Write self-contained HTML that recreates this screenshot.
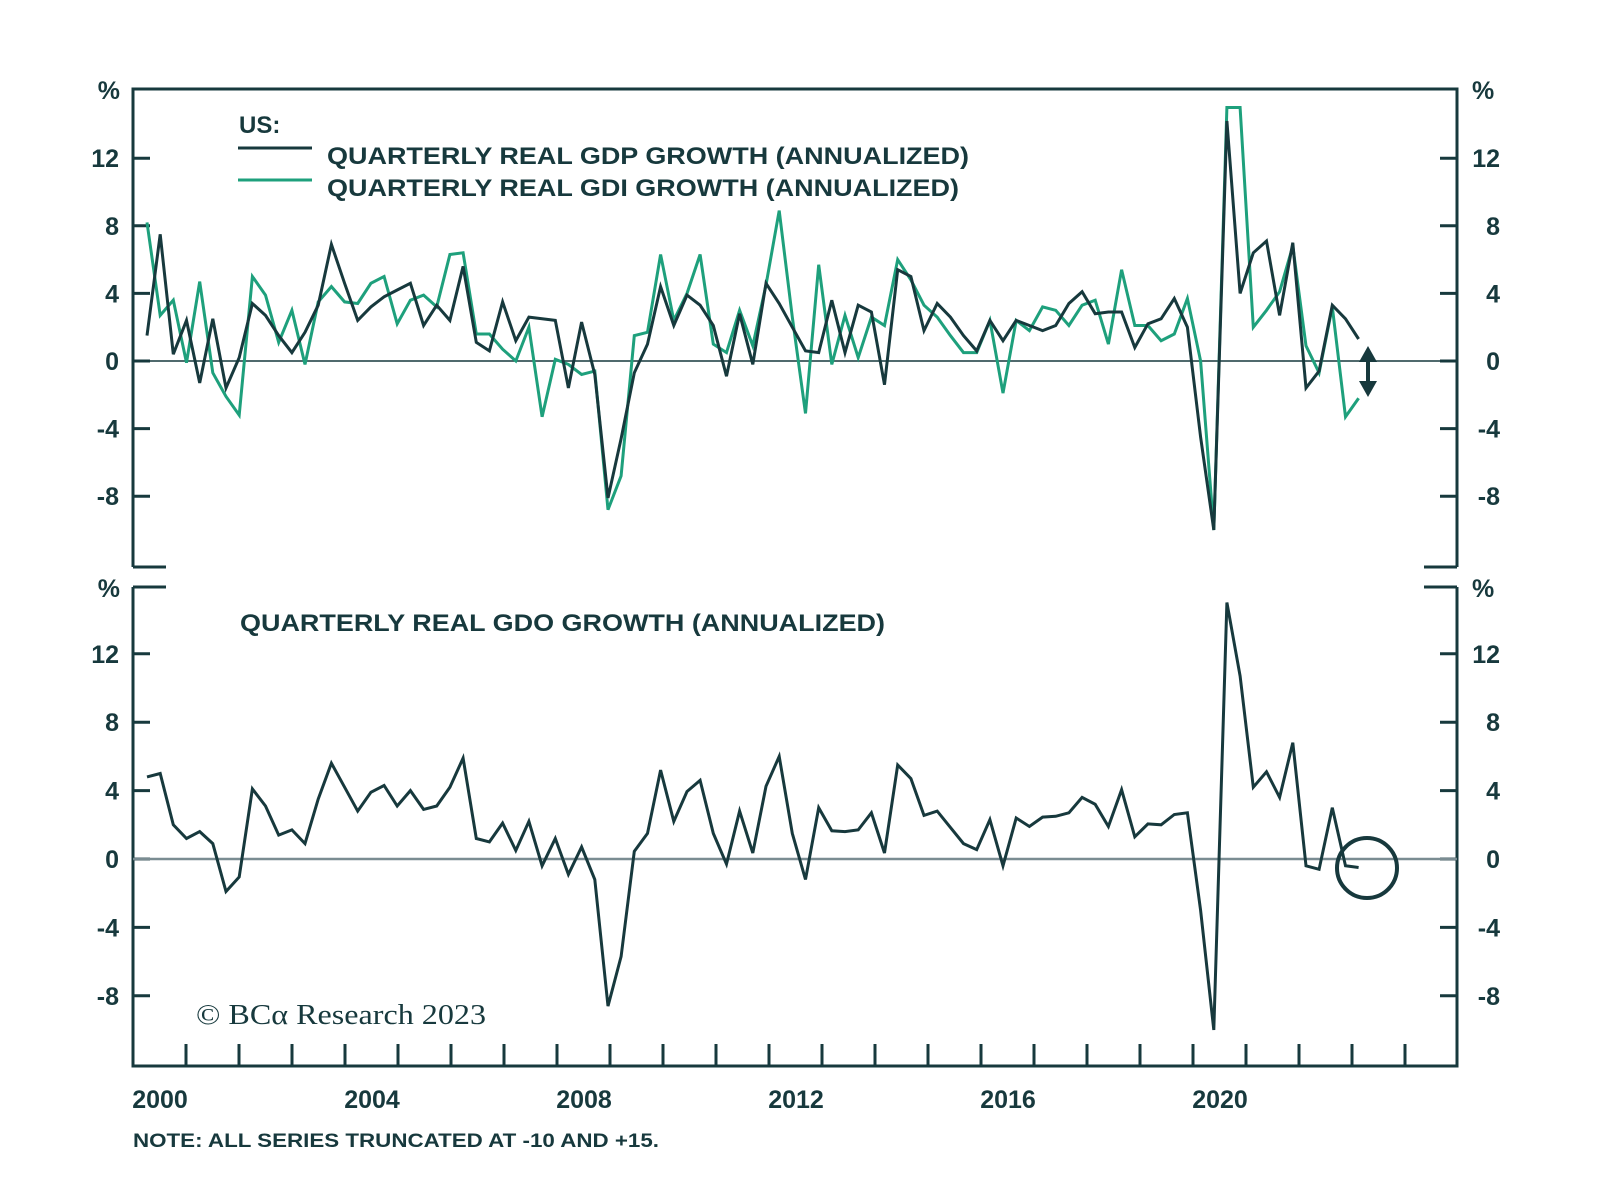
<!DOCTYPE html>
<html><head><meta charset="utf-8"><style>
html,body{margin:0;padding:0;background:#fff;}
svg{display:block;}
text{font-family:"Liberation Sans",sans-serif;fill:#17393d;}
.ax{font-size:25px;font-weight:bold;}
.lg{font-size:24px;font-weight:bold;}
</style></head><body>
<svg id="s" width="1600" height="1202" viewBox="0 0 1600 1202" xmlns="http://www.w3.org/2000/svg">
<g stroke="#17393d" stroke-width="3" fill="none">
<polyline points="133,567 133,89 1457,89 1457,567"/>
<line x1="133" y1="567" x2="166" y2="567"/>
<line x1="1424" y1="567" x2="1457" y2="567"/>
<polyline points="133,587 133,1066 1457,1066 1457,587"/>
<line x1="133" y1="587" x2="166" y2="587"/>
<line x1="1424" y1="587" x2="1457" y2="587"/>
</g>
<g id="ticks" stroke="#17393d" stroke-width="3"></g>
<line x1="133" y1="361" x2="1457" y2="361" stroke="#17393d" stroke-width="1.6"/>
<line x1="133" y1="859" x2="1457" y2="859" stroke="#7a8c92" stroke-width="2.5"/>
<g id="series" fill="none" stroke-linejoin="miter" stroke-width="3"></g>
<g id="labels"></g>
<text x="239" y="133" class="lg" font-size="26">US:</text>
<line x1="238" y1="148" x2="312" y2="148" stroke="#17393d" stroke-width="3"/>
<line x1="238" y1="180" x2="312" y2="180" stroke="#1ea07c" stroke-width="3"/>
<text x="327" y="164" class="lg" textLength="642" lengthAdjust="spacingAndGlyphs">QUARTERLY REAL GDP GROWTH (ANNUALIZED)</text>
<text x="327" y="196" class="lg" textLength="632" lengthAdjust="spacingAndGlyphs">QUARTERLY REAL GDI GROWTH (ANNUALIZED)</text>
<text x="240" y="631" class="lg" textLength="645" lengthAdjust="spacingAndGlyphs">QUARTERLY REAL GDO GROWTH (ANNUALIZED)</text>
<text x="196" y="1024" style="font-family:'Liberation Serif',serif;font-size:29px;" textLength="290" lengthAdjust="spacingAndGlyphs">© BCα Research 2023</text>
<text x="133" y="1147" style="font-size:19px;font-weight:bold;" textLength="526" lengthAdjust="spacingAndGlyphs">NOTE: ALL SERIES TRUNCATED AT -10 AND +15.</text>
<circle cx="1367" cy="868" r="30" fill="none" stroke="#17393d" stroke-width="4"/>
<line x1="1368" y1="358" x2="1368" y2="386" stroke="#17393d" stroke-width="4"/>
<polygon points="1368,346 1359,362 1377,362" fill="#17393d"/>
<polygon points="1368,397 1359,381 1377,381" fill="#17393d"/>
</svg>
<script>
var NS="http://www.w3.org/2000/svg";
function el(t,a,p,txt){var e=document.createElementNS(NS,t);for(var k in a)e.setAttribute(k,a[k]);if(txt!==undefined)e.textContent=txt;p.appendChild(e);return e;}
var gdp=[1.5,7.5,0.4,2.4,-1.3,2.5,-1.6,0.2,3.4,2.7,1.5,0.5,1.7,3.3,6.9,4.6,2.4,3.2,3.8,4.2,4.6,2.1,3.3,2.4,5.6,1.1,0.6,3.5,1.2,2.6,2.5,2.4,-1.6,2.3,-0.8,-8.1,-4.6,-0.7,1.0,
4.4,2.1,3.9,3.3,2.1,-0.9,2.8,-0.2,4.6,3.4,2.0,0.6,0.5,3.6,0.5,3.3,2.9,-1.4,5.4,5.0,1.8,3.4,2.6,1.5,0.6,2.4,1.2,2.4,2.1,1.8,2.1,3.4,4.1,2.8,2.9,2.9,0.8,2.2,2.5,
3.7,2.0,-4.5,-10,14.2,4.0,6.4,7.1,2.7,7.0,-1.6,-0.6,3.3,2.5,1.3];
var gdi=[8.2,2.7,3.6,-0.1,4.7,-0.7,-2.1,-3.2,5.0,3.9,1.1,3.0,-0.2,3.5,4.4,3.5,3.4,4.6,5.0,2.2,3.6,3.9,3.2,6.3,6.4,1.6,1.6,0.7,0.0,2.0,-3.3,0.1,-0.2,-0.8,-0.6,-8.8,-6.8,1.5,1.7,
6.3,2.4,4.0,6.3,1.0,0.5,3.0,0.9,4.5,8.9,2.6,-3.1,5.7,-0.2,2.7,0.2,2.6,2.1,6.0,4.8,3.3,2.6,1.5,0.5,0.5,2.4,-1.9,2.4,1.8,3.2,3.0,2.1,3.3,3.6,1.0,5.4,2.1,2.1,1.2,
1.6,3.7,0,-10,15,15,2.0,3.0,4.1,6.8,0.9,-0.7,3.2,-3.3,-2.2];
var gdo=[4.8,5.0,2.0,1.2,1.6,0.9,-1.9,-1.05,4.1,3.1,1.4,1.7,0.9,3.5,5.6,4.2,2.8,3.9,4.3,3.1,4.0,2.9,3.1,4.2,5.9,1.2,1.0,2.1,0.5,2.2,-0.4,1.2,-0.9,0.7,-1.2,-8.6,-5.7,0.45,1.5,
5.2,2.2,3.95,4.6,1.5,-0.3,2.8,0.35,4.25,6.0,1.5,-1.2,3.0,1.65,1.6,1.7,2.7,0.35,5.5,4.7,2.55,2.8,1.85,0.9,0.55,2.3,-0.4,2.4,1.9,2.45,2.5,2.7,3.6,3.2,1.9,4.05,1.3,2.05,2.0,
2.6,2.7,-3.0,-10,15,10.7,4.2,5.1,3.6,6.8,-0.4,-0.6,3.0,-0.4,-0.5];
function pts(a,z,u){return a.map(function(v,i){return (147+13.17*i).toFixed(1)+","+(z-u*v).toFixed(1);}).join(" ");}
var S=document.getElementById("series");
el("polyline",{points:pts(gdi,361,16.9),stroke:"#1ea07c"},S);
el("polyline",{points:pts(gdp,361,16.9),stroke:"#17393d"},S);
el("polyline",{points:pts(gdo,859,17.1),stroke:"#17393d"},S);
var T=document.getElementById("ticks"),L=document.getElementById("labels");
var vals=[12,8,4,0,-4,-8];
vals.forEach(function(v){
 var y1=361-16.9*v,y2=859-17.1*v;
 [y1,y2].forEach(function(y){
  el("line",{x1:133,y1:y,x2:150,y2:y},T);
  el("line",{x1:1440,y1:y,x2:1457,y2:y},T);
  var s=v<0?"-"+(-v):""+v;
  el("text",{x:119,y:y+9,"text-anchor":"end","class":"ax"},L,s);
  el("text",{x:1500,y:y+9,"text-anchor":"end","class":"ax"},L,s);
 });
});
[[96,99],[96,597]].forEach(function(p){
 el("text",{x:120,y:p[1],"text-anchor":"end","class":"ax","font-weight":"normal"},L,"%");
 el("text",{x:1472,y:p[1],"class":"ax","font-weight":"normal"},L,"%");
});
for(var k=0;k<24;k++){var x=186+53*k;el("line",{x1:x,y1:1066,x2:x,y2:1044},T);}
for(var j=0;j<6;j++){el("text",{x:160+212*j,y:1108,"text-anchor":"middle","class":"ax"},L,""+(2000+4*j));}
</script>
</body></html>
